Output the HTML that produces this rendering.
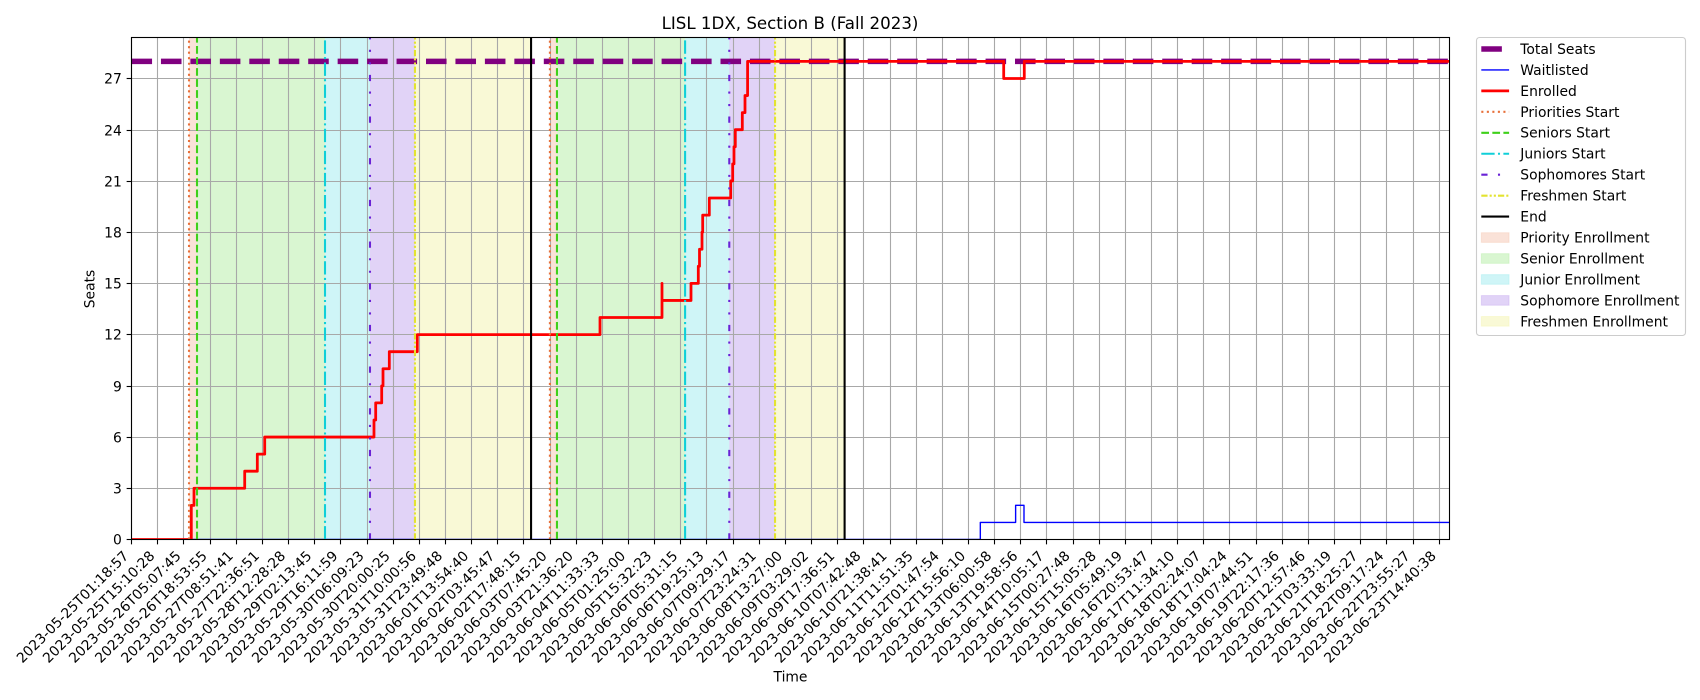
<!DOCTYPE html>
<html lang="en">
<head>
<meta charset="utf-8">
<title>LISL 1DX, Section B (Fall 2023)</title>
<style>
html,body{margin:0;padding:0;background:#fff;width:1700px;height:700px;overflow:hidden}
svg{display:block}
text{font-family:"DejaVu Sans","Liberation Sans",sans-serif;fill:#000}
</style>
</head>
<body>
<svg id="chart" xmlns="http://www.w3.org/2000/svg" width="1700" height="700" viewBox="0 0 1700 700">
  <defs><clipPath id="plot-clip"><rect x="131.5" y="37.5" width="1318" height="502"></rect></clipPath></defs>
  <rect width="1700" height="700" fill="#ffffff"></rect>
  <rect x="131.5" y="37.5" width="1318" height="502" fill="#ffffff"></rect>
  <g id="spans" clip-path="url(#plot-clip)"></g>
  <g id="grid"></g>
  <g id="series" clip-path="url(#plot-clip)"></g>
  <rect x="131.5" y="37.5" width="1318" height="502" fill="none" stroke="#000" stroke-width="1.1"></rect>
  <g id="ticks"></g>
  <text x="790" y="29" font-size="16.67" text-anchor="middle">LISL 1DX, Section B (Fall 2023)</text>
  <text x="790.5" y="681.5" font-size="13.89" text-anchor="middle">Time</text>
  <text transform="translate(94.5,289) rotate(-90)" font-size="13.89" text-anchor="middle">Seats</text>
  <g id="legend">
    <rect x="1476.5" y="37.5" width="209" height="298" rx="3" ry="3" fill="#ffffff" fill-opacity="0.8" stroke="#cccccc" stroke-width="1.1"></rect>
  </g>
</svg>
<script>
// Time values are expressed as fractional positions along the tick sequence.
const xTickLabels = [
  "2023-05-25T01:18:57","2023-05-25T15:10:28","2023-05-26T05:07:45","2023-05-26T18:53:55","2023-05-27T08:51:41",
  "2023-05-27T22:36:51","2023-05-28T12:28:28","2023-05-29T02:13:45","2023-05-29T16:11:59","2023-05-30T06:09:23",
  "2023-05-30T20:00:25","2023-05-31T10:00:56","2023-05-31T23:49:48","2023-06-01T13:54:40","2023-06-02T03:45:47",
  "2023-06-02T17:48:15","2023-06-03T07:45:20","2023-06-03T21:36:20","2023-06-04T11:33:33","2023-06-05T01:25:00",
  "2023-06-05T15:32:23","2023-06-06T05:31:15","2023-06-06T19:25:13","2023-06-07T09:29:17","2023-06-07T23:24:31",
  "2023-06-08T13:27:00","2023-06-09T03:29:02","2023-06-09T17:36:51","2023-06-10T07:42:48","2023-06-10T21:38:41",
  "2023-06-11T11:51:35","2023-06-12T01:47:54","2023-06-12T15:56:10","2023-06-13T06:00:58","2023-06-13T19:58:56",
  "2023-06-14T10:05:17","2023-06-15T00:27:48","2023-06-15T15:05:28","2023-06-16T05:49:19","2023-06-16T20:53:47",
  "2023-06-17T11:34:10","2023-06-18T02:24:07","2023-06-18T17:04:24","2023-06-19T07:44:51","2023-06-19T22:17:36",
  "2023-06-20T12:57:46","2023-06-21T03:33:19","2023-06-21T18:25:27","2023-06-22T09:17:24","2023-06-22T23:55:27",
  "2023-06-23T14:40:38"
];
const yTicks = [0,3,6,9,12,15,18,21,24,27];
const totalSeats = 28;
const enrolledTimes = [0,2.287,2.39,4.329,4.811,5.094,9.273,9.338,9.568,9.618,9.859,10.929,17.916,20.287,20.287,21.396,21.675,21.721,21.817,21.843,22.096,22.914,22.99,23.04,23.09,23.358,23.461,23.56,33.354,34.141];
const enrolledValues = [0,2,3,4,5,6,7,8,9,10,11,12,13,15,14,15,16,17,18,19,20,21,22,23,24,25,26,28,27,28];
const waitlistTimes = [0,32.46,33.81,34.13];
const waitlistValues = [0,1,2,1];
const prioritiesStart = [2.199,16.0];
const seniorsStart = [2.505,16.27];
const juniorsStart = [7.40,21.17];
const sophomoresStart = [9.12,22.86];
const freshmenStart = [10.84,24.61];
const enrollmentEnd = [15.28,27.27];

const NS = "http://www.w3.org/2000/svg";
const plot = {left:131.5,right:1449.5,top:37.5,bottom:539.5};
const xMin = 0, xMax = 50.402, yMin = 0, yMax = 29.4;
const xScale = v => plot.left + (v - xMin) / (xMax - xMin) * (plot.right - plot.left);
const yScale = v => plot.bottom - (v - yMin) / (yMax - yMin) * (plot.bottom - plot.top);
const snapX = p => Math.floor(p + 0.2) + 0.5;
const snapY = p => Math.floor(p + 0.3) + 0.5;

function make(parent, tag, attrs, content) {
  const node = document.createElementNS(NS, tag);
  for (const key in attrs) node.setAttribute(key, attrs[key]);
  if (content !== undefined) node.textContent = content;
  parent.appendChild(node);
  return node;
}
function stepPath(times, values) {
  let d = "M" + xScale(times[0]).toFixed(2) + " " + yScale(values[0]).toFixed(2);
  for (let i = 1; i < times.length; i++) {
    d += "H" + xScale(times[i]).toFixed(2) + "V" + yScale(values[i]).toFixed(2);
  }
  return d + "H" + plot.right;
}

const LW = 2.083;
const styles = {
  priority:{color:"#e8703a",fill:"#e8703a",dash:[2.083,3.437]},
  senior:{color:"#3fd01a",fill:"#3fd01a",dash:[7.708,3.333]},
  junior:{color:"#10cfd8",fill:"#10cfd8",dash:[13.33,3.333,2.083,3.333]},
  sophomore:{color:"#6a22d6",fill:"#6a22d6",dash:[6.25,10.42,2.083,10.42,2.083,10.42]},
  freshmen:{color:"#e3e330",fill:"#e3e330",dash:[6.25,2.083,2.083,2.083,2.083,2.083]}
};

// Shaded enrollment spans
const spansGroup = document.getElementById("spans");
const spanDefs = [
  {key:"priority",from:prioritiesStart,to:seniorsStart},
  {key:"senior",from:seniorsStart,to:juniorsStart},
  {key:"junior",from:juniorsStart,to:sophomoresStart},
  {key:"sophomore",from:sophomoresStart,to:freshmenStart},
  {key:"freshmen",from:freshmenStart,to:enrollmentEnd}
];
spanDefs.forEach(def => {
  def.from.forEach((start, i) => {
    const x0 = xScale(start), x1 = xScale(def.to[i]);
    const r = make(spansGroup, "rect", {x:x0,y:plot.top,width:x1-x0,height:plot.bottom-plot.top,fill:styles[def.key].fill,"fill-opacity":0.2});
    
    
  });
});

// Grid lines
const gridGroup = document.getElementById("grid");
const ticksGroup = document.getElementById("ticks");
xTickLabels.forEach((label, i) => {
  const px = snapX(xScale(i));
  const g = make(gridGroup, "line", {x1:px,x2:px,y1:plot.top,y2:plot.bottom,stroke:"#a8a8a8","stroke-width":1.1});
  
  
  const t = make(ticksGroup, "line", {x1:px,x2:px,y1:plot.bottom,y2:plot.bottom+4.86,stroke:"#000","stroke-width":1.1});
  
  
  const ax = xScale(i) - 2.1, ay = 556.7;
  const txt = make(ticksGroup, "text", {transform:"translate("+ax.toFixed(2)+","+ay+") rotate(-45)","font-size":13.89,"text-anchor":"end"}, label);
  
  
});
yTicks.forEach(v => {
  const py = snapY(yScale(v));
  const g = make(gridGroup, "line", {x1:plot.left,x2:plot.right,y1:py,y2:py,stroke:"#a8a8a8","stroke-width":1.1});
  
  
  const t = make(ticksGroup, "line", {x1:plot.left-4.86,x2:plot.left,y1:py,y2:py,stroke:"#000","stroke-width":1.1});
  
  
  const txt = make(ticksGroup, "text", {x:121.8,y:py+5,"font-size":13.89,"text-anchor":"end"}, String(v));
  
  
});

// Series lines
const seriesGroup = document.getElementById("series");
const totalY = yScale(totalSeats);
const totalLine = make(seriesGroup, "line", {x1:plot.left,x2:plot.right,y1:totalY,y2:totalY,stroke:"#800080","stroke-width":5.56,"stroke-dasharray":"20.56 8.89"});


const waitLine = make(seriesGroup, "path", {d:stepPath(waitlistTimes,waitlistValues),fill:"none",stroke:"#0000ff","stroke-width":1.39,"stroke-linejoin":"round"});


const enrolledLine = make(seriesGroup, "path", {d:stepPath(enrolledTimes,enrolledValues),fill:"none",stroke:"#ff0000","stroke-width":2.78,"stroke-linejoin":"round"});



const eventDefs = [
  {name:"priorities-start-line",times:prioritiesStart,key:"priority"},
  {name:"seniors-start-line",times:seniorsStart,key:"senior"},
  {name:"juniors-start-line",times:juniorsStart,key:"junior"},
  {name:"sophomores-start-line",times:sophomoresStart,key:"sophomore"},
  {name:"freshmen-start-line",times:freshmenStart,key:"freshmen"}
];
eventDefs.forEach(def => {
  def.times.forEach(time => {
    const px = xScale(time);
    const line = make(seriesGroup, "line", {x1:px,x2:px,y1:plot.bottom,y2:plot.top,stroke:styles[def.key].color,"stroke-width":LW,"stroke-dasharray":styles[def.key].dash.join(" ")});
    
    
  });
});
enrollmentEnd.forEach(time => {
  const px = xScale(time);
  const line = make(seriesGroup, "line", {x1:px,x2:px,y1:plot.bottom,y2:plot.top,stroke:"#000000","stroke-width":LW});
  
  
});

// Legend
const legendGroup = document.getElementById("legend");
const legendItems = [
  {label:"Total Seats",kind:"line",color:"#800080",width:5.56,dash:"20.56 8.89"},
  {label:"Waitlisted",kind:"line",color:"#0000ff",width:1.39},
  {label:"Enrolled",kind:"line",color:"#ff0000",width:2.78},
  {label:"Priorities Start",kind:"line",color:styles.priority.color,width:LW,dash:styles.priority.dash.join(" ")},
  {label:"Seniors Start",kind:"line",color:styles.senior.color,width:LW,dash:styles.senior.dash.join(" ")},
  {label:"Juniors Start",kind:"line",color:styles.junior.color,width:LW,dash:styles.junior.dash.join(" ")},
  {label:"Sophomores Start",kind:"line",color:styles.sophomore.color,width:LW,dash:styles.sophomore.dash.join(" ")},
  {label:"Freshmen Start",kind:"line",color:styles.freshmen.color,width:LW,dash:styles.freshmen.dash.join(" ")},
  {label:"End",kind:"line",color:"#000000",width:LW},
  {label:"Priority Enrollment",kind:"patch",color:styles.priority.fill},
  {label:"Senior Enrollment",kind:"patch",color:styles.senior.fill},
  {label:"Junior Enrollment",kind:"patch",color:styles.junior.fill},
  {label:"Sophomore Enrollment",kind:"patch",color:styles.sophomore.fill},
  {label:"Freshmen Enrollment",kind:"patch",color:styles.freshmen.fill}
];
legendItems.forEach((item, i) => {
  const cy = 49 + i * 20.95;
  const entry = make(legendGroup, "g", {});
  const slug = item.label.toLowerCase().replace(/\s+/g, '-');
  
  
  let handle;
  if (item.kind === "line") {
    const attrs = {x1:1481.3,x2:1509.1,y1:cy,y2:cy,stroke:item.color,"stroke-width":item.width};
    if (item.dash) attrs["stroke-dasharray"] = item.dash;
    handle = make(entry, "line", attrs);
  } else {
    handle = make(entry, "rect", {x:1481.3,y:cy-4.86,width:27.8,height:9.72,fill:item.color,"fill-opacity":0.2,stroke:item.color,"stroke-opacity":0.12,"stroke-width":1});
  }
  
  
  const label = make(entry, "text", {x:1520.3,y:cy+4.9,"font-size":13.89}, item.label);
  
  
});
</script>
</body>
</html>
